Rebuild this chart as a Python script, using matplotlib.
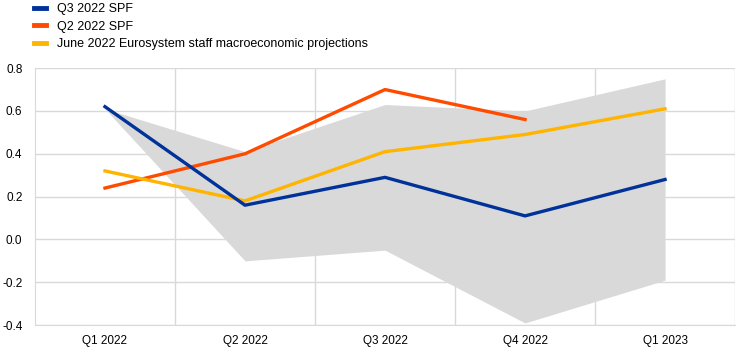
import matplotlib
matplotlib.use('Agg')
import matplotlib.pyplot as plt
import numpy as np

# data
quarters = ['Q1 2022', 'Q2 2022', 'Q3 2022', 'Q4 2022', 'Q1 2023']
q3_spf = [0.62, 0.16, 0.29, 0.11, 0.28]
q2_spf = [0.24, 0.40, 0.70, 0.56]
june_proj = [0.32, 0.18, 0.41, 0.49, 0.61]
band_low = [0.61, -0.10, -0.05, -0.39, -0.19]
band_high = [0.61, 0.41, 0.63, 0.60, 0.75]

plt.rcParams['font.family'] = ['Liberation Sans', 'DejaVu Sans']

fig = plt.figure(figsize=(7.44, 3.53), dpi=100)
ax = fig.add_axes([0.047, 0.079, 0.941, 0.728])

x = np.arange(len(quarters))
ax.fill_between(x, band_low, band_high, color='#d9d9d9', lw=0, zorder=1)
l1, = ax.plot(x, q3_spf, color='#003299', lw=2.4, zorder=4, label='Q3 2022 SPF')
l2, = ax.plot(x[:len(q2_spf)], q2_spf, color='#ff4b00', lw=2.4, zorder=3, label='Q2 2022 SPF')
l3, = ax.plot(x, june_proj, color='#ffb400', lw=2.4, zorder=3,
              label='June 2022 Eurosystem staff macroeconomic projections')

ax.set_xlim(-0.5, 4.5)
ax.set_ylim(-0.4, 0.8)
ax.set_yticks(np.arange(-0.4, 0.81, 0.2))
ax.set_yticklabels(['%.1f' % v for v in np.arange(-0.4, 0.81, 0.2)])
ax.set_xticks(x)
ax.set_xticklabels(quarters)
ax.set_xticks(np.arange(0.5, 4.6, 1), minor=True)
ax.grid(axis='y', color='#d9d9d9', lw=1, zorder=0)
ax.grid(axis='x', which='minor', color='#d9d9d9', lw=1, zorder=0)
ax.tick_params(axis='both', which='both', length=0, labelsize=8.5, colors='black')
ax.tick_params(axis='x', pad=7)
ax.tick_params(axis='y', pad=9)
for s in ['top', 'right']:
    ax.spines[s].set_visible(False)
for s in ['left', 'bottom']:
    ax.spines[s].set_color('#d9d9d9')
ax.set_axisbelow(True)

leg = fig.legend(handles=[l1, l2, l3], loc='upper left', bbox_to_anchor=(0.036, 1.013),
                 frameon=False, fontsize=9, handlelength=0.9, handletextpad=0.9,
                 labelspacing=0.45, borderaxespad=0.2)
for h in leg.get_lines():
    h.set_linewidth(3.5)

plt.savefig('out.png', dpi=100)
